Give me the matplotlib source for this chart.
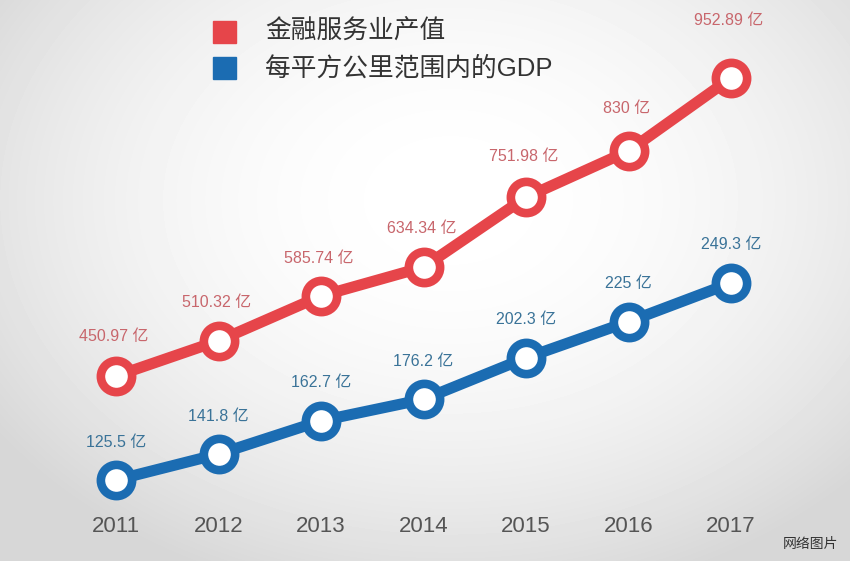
import numpy as np
import matplotlib
matplotlib.use("Agg")
import matplotlib.pyplot as plt
from matplotlib.patches import Rectangle

plt.rcParams['font.family'] = ['Liberation Sans', 'Noto Sans CJK SC', 'DejaVu Sans']

# data
years = ['2011', '2012', '2013', '2014', '2015', '2016', '2017']
finance = [450.97, 510.32, 585.74, 634.34, 751.98, 830, 952.89]
gdp_km2 = [125.5, 141.8, 162.7, 176.2, 202.3, 225, 249.3]
legend_names = ['金融服务业产值', '每平方公里范围内的GDP']
unit = '亿'

red = '#e6454a'
red_txt = '#c8666c'
blue = '#1b6cb2'
blue_txt = '#3a7398'

W, H = 850, 561
fig = plt.figure(figsize=(W / 100, H / 100), dpi=100)

# soft radial background
bg = fig.add_axes([0, 0, 1, 1])
yy, xx = np.mgrid[0:H, 0:W]
d2 = ((xx - 450) / 620.0) ** 2 + ((yy - 200) / 460.0) ** 2
shade = np.clip(1 - 0.2 * d2, 0.84, 1.0)
bg.imshow(shade, cmap='gray', vmin=0, vmax=1, aspect='auto', extent=(0, W, H, 0))
bg.axis('off')


def lims(v0, v1, p0, p1, size):
    # data limits so that v0 sits at pixel p0 and v1 at p1 (pixels from top)
    s = (v1 - v0) / (p0 - p1)
    return v0 - (size - p0) * s, v0 + p0 * s


x = np.arange(len(years))
xs = (x[-1] - x[0]) / (731 - 116)
ax = fig.add_axes([0, 0, 1, 1])
ax.patch.set_alpha(0)
ax.set_xlim(x[0] - 116 * xs, x[0] + (W - 116) * xs)
ax.set_ylim(*lims(finance[0], finance[-1], 376, 78, H))
ax.axis('off')

ax2 = fig.add_axes([0, 0, 1, 1])
ax2.patch.set_alpha(0)
ax2.set_xlim(ax.get_xlim())
ax2.set_ylim(*lims(gdp_km2[0], gdp_km2[-1], 480, 283, H))
ax2.axis('off')

ax.plot(x, finance, color=red, lw=8, marker='o', ms=22.5, mew=6.2,
        mfc='white', mec=red, solid_capstyle='round', zorder=3)
ax2.plot(x, gdp_km2, color=blue, lw=8, marker='o', ms=22.5, mew=6.2,
         mfc='white', mec=blue, solid_capstyle='round', zorder=3)

red_off = [40, 38, 37, 39, 41, 42, 57]
for i, v in enumerate(finance):
    ax.annotate('{:g} {}'.format(v, unit), (x[i], v), xytext=(-2, red_off[i]),
                textcoords='offset pixels', ha='center', va='center',
                fontsize=11.5, color=red_txt)
for i, v in enumerate(gdp_km2):
    ax2.annotate('{:g} {}'.format(v, unit), (x[i], v), xytext=(0, 38),
                 textcoords='offset pixels', ha='center', va='center',
                 fontsize=11.5, color=blue_txt)

for i, yr in enumerate(years):
    ax.text(x[i], 1 - 526 / H, yr, transform=ax.get_xaxis_transform(),
            ha='center', va='center', fontsize=16, color='#555555')

# legend
for j, (name, c) in enumerate(zip(legend_names, [red, blue])):
    top = 21 + j * 36
    fig.patches.append(Rectangle((213 / W, 1 - (top + 22) / H), 23 / W, 22 / H,
                                 transform=fig.transFigure, color=c))
    fig.text(265 / W, 1 - (top + 11) / H, name, ha='left', va='center',
             fontsize=18.5, color='#333333')

fig.text(838 / W, 1 - 544 / H, '网络图片', ha='right', va='center',
         fontsize=10, color='#333333')

fig.savefig('out.png', dpi=100)
